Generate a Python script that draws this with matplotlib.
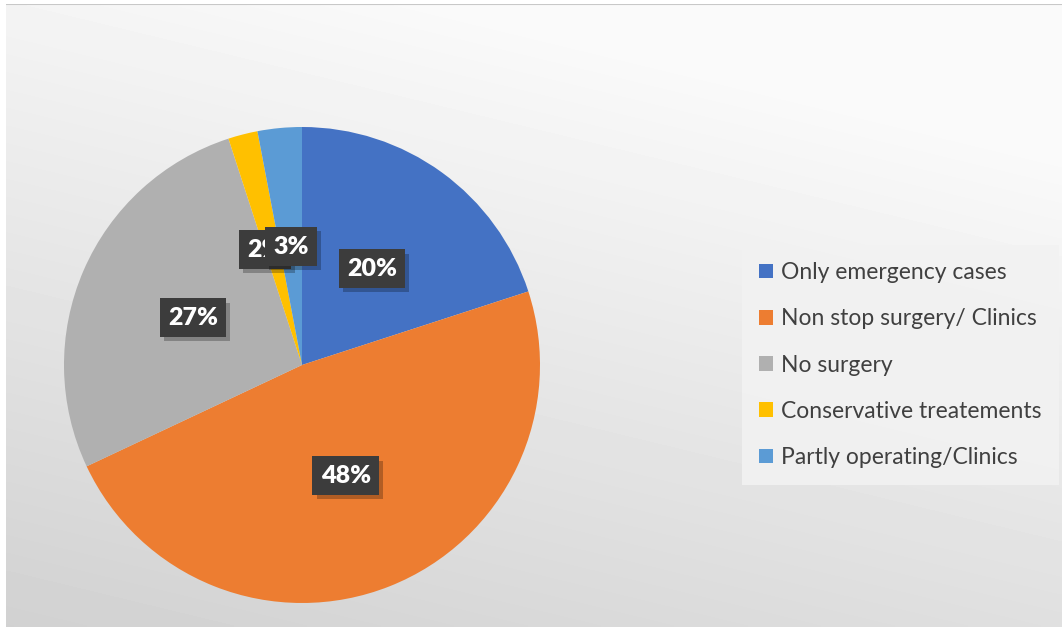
import numpy as np
import matplotlib.pyplot as plt
import matplotlib.patheffects as pe

plt.rcParams['font.family'] = ['Lato', 'DejaVu Sans']

labels = ['Only emergency cases', 'Non stop surgery/ Clinics', 'No surgery',
          'Conservative treatements', 'Partly operating/Clinics']
values = [20, 48, 27, 2, 3]
colors = ['#4472C4', '#ED7D31', '#B0B0B0', '#FFC000', '#5B9BD5']

W, H = 1062, 631
fig = plt.figure(figsize=(W / 100, H / 100), dpi=100)
fig.patch.set_facecolor('white')

# soft grey gradient behind everything
bg = fig.add_axes([6 / W, 4 / H, 1056 / W, 623 / H])
u, v = np.meshgrid(np.linspace(0, 1, 300), np.linspace(0, 1, 200))
b = 0.82 + 0.16 * np.clip(0.35 * u + 0.85 * v, 0, 1)
bg.imshow(b, cmap='gray', vmin=0, vmax=1, origin='lower', aspect='auto',
          extent=[0, 1, 0, 1], interpolation='bilinear')
bg.axhline(1, color='#c8c8c8', lw=1.5)
bg.axis('off')

# pie: centre (302, 365) px, radius 238 px
cx, cy, r = 302, 365, 238
ax = fig.add_axes([(cx - r) / W, (H - cy - r) / H, 2 * r / W, 2 * r / H])
wedges, texts, autotexts = ax.pie(values, colors=colors, startangle=90, counterclock=False,
                                  autopct='%d%%', pctdistance=0.5, radius=1,
                                  wedgeprops=dict(linewidth=0))
ax.set_xlim(-1, 1)
ax.set_ylim(-1, 1)
ax.set_aspect('equal')

for i, t in enumerate(autotexts):
    t.set_color('white')
    t.set_fontsize(18)
    t.set_fontweight('heavy')
    t.set_bbox(dict(boxstyle='square,pad=0.33', facecolor='#3c3c3c',
                    edgecolor='none'))
    t.get_bbox_patch().set_path_effects([
        pe.withSimplePatchShadow(offset=(3, -3), shadow_rgbFace='#000000', alpha=0.25)])
    t.set_zorder(5 + i)
# small slice label nudged left like the original, partly covered by the 3% box
x, y = autotexts[3].get_position()
autotexts[3].set_position((x - 0.03, y))
autotexts[3].set_zorder(4)

leg = fig.legend(wedges, labels, loc='upper left',
                 bbox_to_anchor=(742 / W, 1 - 245 / H), fontsize=16.5,
                 frameon=True, fancybox=False, handlelength=0.6, handleheight=0.6,
                 handletextpad=0.35, labelspacing=1.1, borderpad=0.75,
                 borderaxespad=0)
leg.get_frame().set_facecolor('#f2f2f2')
leg.get_frame().set_edgecolor('none')
leg.get_frame().set_alpha(0.9)
for t in leg.get_texts():
    t.set_color('#404040')

fig.savefig('out.png', dpi=100, facecolor=fig.get_facecolor())
